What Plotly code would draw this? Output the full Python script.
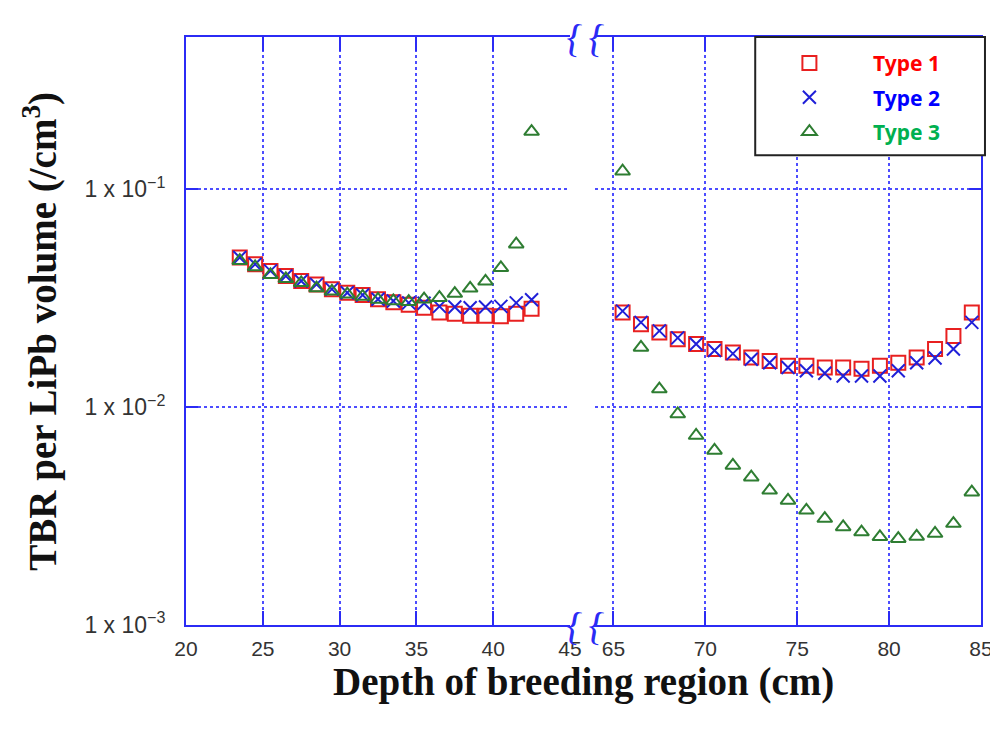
import plotly.graph_objects as go

# ---- data ----
x_left = [23.5, 24.5, 25.5, 26.5, 27.5, 28.5, 29.5, 30.5, 31.5, 32.5,
          33.5, 34.5, 35.5, 36.5, 37.5, 38.5, 39.5, 40.5, 41.5, 42.5]
x_right = [65.5, 66.5, 67.5, 68.5, 69.5, 70.5, 71.5, 72.5, 73.5, 74.5,
           75.5, 76.5, 77.5, 78.5, 79.5, 80.5, 81.5, 82.5, 83.5, 84.5]

type1_left = [0.0486, 0.0453, 0.0422, 0.0400, 0.0379, 0.0366, 0.0348, 0.0335, 0.0327, 0.0313,
              0.0303, 0.0295, 0.0286, 0.0272, 0.0268, 0.0263, 0.0263, 0.0261, 0.0268, 0.0283]
type2_left = [0.0486, 0.0453, 0.0422, 0.0400, 0.0379, 0.0366, 0.0348, 0.0335, 0.0327, 0.0313,
              0.0307, 0.0301, 0.0300, 0.0290, 0.0288, 0.0286, 0.0288, 0.0290, 0.0301, 0.0311]
type3_left = [0.0470, 0.0440, 0.0405, 0.0388, 0.0372, 0.0352, 0.0340, 0.0330, 0.0322, 0.0312,
              0.0307, 0.0305, 0.0313, 0.0318, 0.0332, 0.0351, 0.0378, 0.0436, 0.0560, 0.184]

type1_right = [0.0272, 0.0240, 0.0220, 0.0205, 0.0195, 0.0185, 0.0178, 0.0169, 0.0163, 0.0155,
               0.0155, 0.0152, 0.0152, 0.0150, 0.0155, 0.0160, 0.0169, 0.0185, 0.0212, 0.0272]
type2_right = [0.0276, 0.0245, 0.0224, 0.0208, 0.0195, 0.0182, 0.0176, 0.0166, 0.0160, 0.0152,
               0.0147, 0.0143, 0.0139, 0.0139, 0.0139, 0.0147, 0.0160, 0.0168, 0.0185, 0.0245]
type3_right = [0.121, 0.0188, 0.0121, 0.0093, 0.00741, 0.00633, 0.0054, 0.00477, 0.00415, 0.00373,
               0.00336, 0.00308, 0.00282, 0.00267, 0.00254, 0.00249, 0.00255, 0.00263, 0.00292, 0.00407]

series_names = ["Type 1", "Type 2", "Type 3"]
left_ticks = [20, 25, 30, 35, 40, 45]
right_ticks = [65, 70, 75, 80, 85]
y_tickvals = [0.001, 0.01, 0.1]
y_ticktext = ["1 x 10<sup>\u22123</sup>", "1 x 10<sup>\u22122</sup>", "1 x 10<sup>\u22121</sup>"]

# ---- styles ----
AX = "#2b2bf5"
GRID = "#4d4dff"
styles = [
    dict(symbol="square-open", size=14, color="#e82020", text="#ff0000"),
    dict(symbol="x-thin-open", size=13, color="#2020d8", text="#0000ff"),
    dict(symbol="triangle-up-open", size=13, color="#2e7d32", text="#00b050"),
]

fig = go.Figure()
left_data = [type1_left, type2_left, type3_left]
right_data = [type1_right, type2_right, type3_right]
pad = "&nbsp;" * 8
for i, name in enumerate(series_names):
    st = styles[i]
    mk = dict(symbol=st["symbol"], size=st["size"], color=st["color"],
              line=dict(color=st["color"], width=2))
    fig.add_trace(go.Scatter(
        x=x_left, y=left_data[i], mode="markers", marker=mk,
        name=pad + f"<b><span style='color:{st['text']}'>{name}</span></b>",
        legendgroup=name, showlegend=True, xaxis="x", yaxis="y"))
    fig.add_trace(go.Scatter(
        x=x_right, y=right_data[i], mode="markers", marker=mk,
        name=name, legendgroup=name, showlegend=False, xaxis="x2", yaxis="y2"))

xtickfont = dict(family="Liberation Sans, Arial", size=21, color="#333")
ytickfont = dict(family="Liberation Sans, Arial", size=23, color="#333")
common_x = dict(showline=True, linecolor=AX, linewidth=2, mirror="ticks",
                ticks="inside", ticklen=14, tickwidth=2, tickcolor=AX,
                showgrid=True, gridcolor=GRID, griddash="dot", gridwidth=1.5,
                zeroline=False, tickfont=xtickfont, ticklabelstandoff=4, automargin=False)
common_y = dict(type="log", range=[-3, -0.301], showline=True, linecolor=AX, linewidth=2,
                ticks="inside", ticklen=12, tickwidth=2, tickcolor=AX,
                showgrid=True, gridcolor=GRID, griddash="dot", gridwidth=1.5,
                zeroline=False, tickvals=y_tickvals, automargin=False)

fig.update_layout(
    width=990, height=721,
    margin=dict(l=178, r=17, t=29, b=104),
    plot_bgcolor="white", paper_bgcolor="white",
    xaxis=dict(domain=[0, 0.483], range=[20, 45], anchor="y", tickvals=left_ticks, **common_x),
    xaxis2=dict(domain=[0.5145, 1], range=[64, 85], anchor="y2", tickvals=right_ticks, **common_x),
    yaxis=dict(anchor="x", ticktext=y_ticktext, tickfont=ytickfont, ticklabelstandoff=14,
               **common_y),
    yaxis2=dict(anchor="x2", side="right", showticklabels=False, matches="y", **common_y),
    showlegend=True,
    legend=dict(x=0.759, y=0.99, xanchor="left", yanchor="top",
                bgcolor="rgba(0,0,0,0)", borderwidth=0, tracegroupgap=4,
                font=dict(family="Noto Sans", size=21)),
)

# legend box
fig.add_shape(type="rect", xref="paper", yref="paper", x0=0.716, x1=1.005, y0=0.799, y1=1.0,
              line=dict(color="#222", width=2), fillcolor="white", layer="above")

# axis titles
fig.add_annotation(text="<b>Depth of breeding region (cm)</b>", xref="paper", yref="paper",
                   x=0.5, y=-0.056, xanchor="center", yanchor="top", showarrow=False,
                   font=dict(family="Liberation Serif", size=39, color="#111"))
fig.add_annotation(text="<b>TBR per LiPb volume (/cm<sup>3</sup>)</b>", xref="paper", yref="paper",
                   x=-0.184, y=0.5, xanchor="center", yanchor="middle", showarrow=False,
                   textangle=-90,
                   font=dict(family="Liberation Serif", size=39, color="#111"))

# axis break marks
for xb in [0.4875, 0.5145]:
    for yb in [1.0, 0.0]:
        fig.add_annotation(text="{", xref="paper", yref="paper", x=xb, y=yb,
                           xanchor="center", yanchor="middle", showarrow=False, textangle=10,
                           font=dict(family="Liberation Serif", size=40, color=AX))

fig.write_html("out.html")
